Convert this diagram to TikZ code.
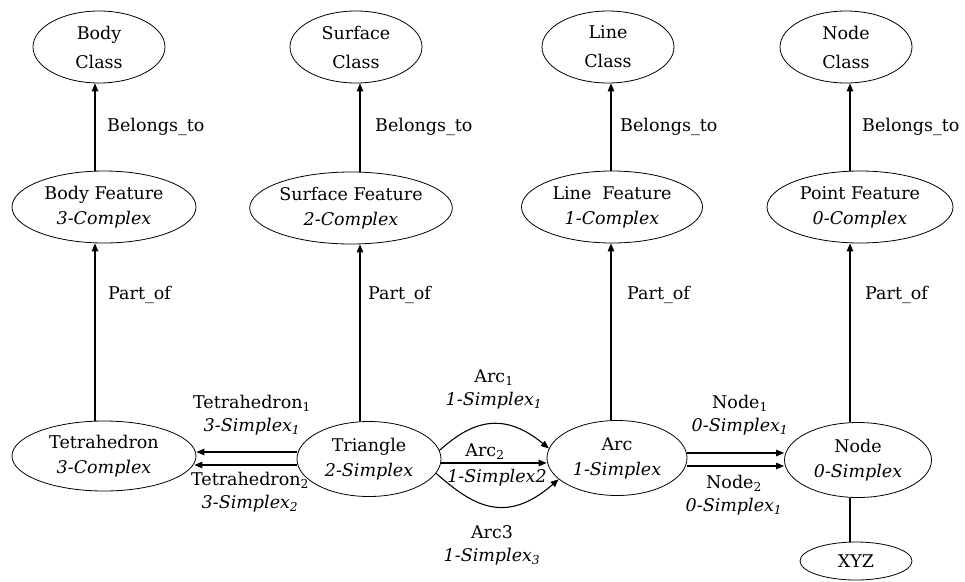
\documentclass[tikz,border=0pt]{standalone}
\usepackage{fontspec}
\setmainfont{DejaVu Serif}
\usetikzlibrary{shapes.geometric,arrows.meta,calc}
\begin{document}
\begin{tikzpicture}[x=1pt,y=-1pt,
  every node/.style={font=\fontsize{17.5}{25}\selectfont},
  ent/.style={ellipse,draw,line width=0.8pt,inner sep=0pt,align=center},
  cls/.style={ent,minimum width=132,minimum height=72,font=\fontsize{17.5}{29}\selectfont},
  feat/.style={ent,minimum height=72},
  arr/.style={line width=1.1pt,-{Triangle[length=8pt,width=6.5pt]}},
  plain/.style={line width=1.1pt},
  lbl/.style={inner sep=0pt,align=center},
  side/.style={inner sep=0pt,anchor=west}]
\useasboundingbox (0,0) rectangle (965,581);

% column guides for the vertical links
\coordinate (c1) at (95,0);
\coordinate (c2) at (360,0);
\coordinate (c3) at (611,0);
\coordinate (c4) at (850,0);

% class layer
\node[cls] (bodyc) at (99,47) {Body\\Class};
\node[cls] (surfc) at (356,47) {Surface\\Class};
\node[cls] (linec) at (608,47) {Line\\Class};
\node[cls] (nodec) at (846,47) {Node\\Class};

% feature layer
\node[feat,minimum width=184] (bodyf) at (104,207) {Body Feature\\\textit{3-Complex}};
\node[feat,minimum width=198] (surff) at (351,208) {Surface Feature\\\textit{2-Complex}};
\node[feat,minimum width=181] (linef) at (612,207) {Line\ \ Feature\\\textit{1-Complex}};
\node[feat,minimum width=186] (pointf) at (860,207) {Point Feature\\\textit{0-Complex}};

% simplex layer
\node[ent,minimum width=184,minimum height=70] (tet) at (104,456) {Tetrahedron\\\textit{3-Complex}};
\node[ent,minimum width=144,minimum height=75] (tri) at (369,459) {Triangle\\\textit{2-Simplex}};
\node[ent,minimum width=140,minimum height=75] (arc) at (617,458) {Arc\\\textit{1-Simplex}};
\node[ent,minimum width=147,minimum height=75] (node) at (858,460) {Node\\\textit{0-Simplex}};
\node[ent,minimum width=112,minimum height=38] (xyz) at (856,561) {XYZ};

% belongs_to links
\draw[arr] (bodyf.north -| c1) -- (bodyc.south -| c1);
\draw[arr] (surff.north -| c2) -- (surfc.south -| c2);
\draw[arr] (linef.north -| c3) -- (linec.south -| c3);
\draw[arr] (pointf.north -| c4) -- (nodec.south -| c4);
\node[side] (b1) at (107,127) {Belongs\_to};
\node[side] (b2) at (375,127) {Belongs\_to};
\node[side] (b3) at (620,127) {Belongs\_to};
\node[side] (b4) at (862,127) {Belongs\_to};

% part_of links
\draw[arr] (tet.north -| c1) -- (bodyf.south -| c1);
\draw[arr] (tri.north -| c2) -- (surff.south -| c2);
\draw[arr] (arc.north -| c3) -- (linef.south -| c3);
\draw[arr] (node.north -| c4) -- (pointf.south -| c4);
\node[side] (p1) at (108,295) {Part\_of};
\node[side] (p2) at (368,295) {Part\_of};
\node[side] (p3) at (627,295) {Part\_of};
\node[side] (p4) at (865,295) {Part\_of};

% triangle -> tetrahedron
\draw[arr] ($(tri.west)+(0,-7)$) -- ($(tet.east)+(0,-4)$);
\draw[arr] ($(tri.west)+(0,6)$) -- ($(tet.east)+(-2,9)$);
\node[lbl] (t1) at (252,415) {Tetrahedron\textsubscript{1}\\[-2pt]\textit{3-Simplex\textsubscript{1}}};
\node[lbl] (t2) at (250,492) {Tetrahedron\textsubscript{2}\\[-2pt]\textit{3-Simplex\textsubscript{2}}};

% triangle -> arc
\draw[arr] (tri.7) .. controls (468,425) and (500,408) .. (arc.172);
\draw[arr] ($(tri.east)+(0,4)$) -- ($(arc.west)+(0,5)$);
\draw[arr] (tri.-12) .. controls (472,505) and (505,526) .. (arc.200);
\node[lbl] (a1) at (494,389) {Arc\textsubscript{1}\\[-2pt]\textit{1-Simplex\textsubscript{1}}};
\node[lbl] (a2) at (485,452) {Arc\textsubscript{2}};
\node[lbl] (a2s) at (497,478) {\textit{1-Simplex2}};
\node[lbl] (a3) at (492,545) {Arc3\\[-2pt]\textit{1-Simplex\textsubscript{3}}};

% arc -> node
\draw[arr] ($(arc.east)+(0,-5)$) -- ($(node.west)+(0,-7)$);
\draw[arr] ($(arc.east)+(0,8)$) -- ($(node.west)+(0,6)$);
\node[lbl] (n1) at (740,415) {Node\textsubscript{1}\\[-2pt]\textit{0-Simplex\textsubscript{1}}};
\node[lbl] (n2) at (734,495) {Node\textsubscript{2}\\[-2pt]\textit{0-Simplex\textsubscript{1}}};

% node -> coordinates
\draw[plain] (node.south -| c4) -- (xyz.north -| c4);
\end{tikzpicture}
\end{document}
